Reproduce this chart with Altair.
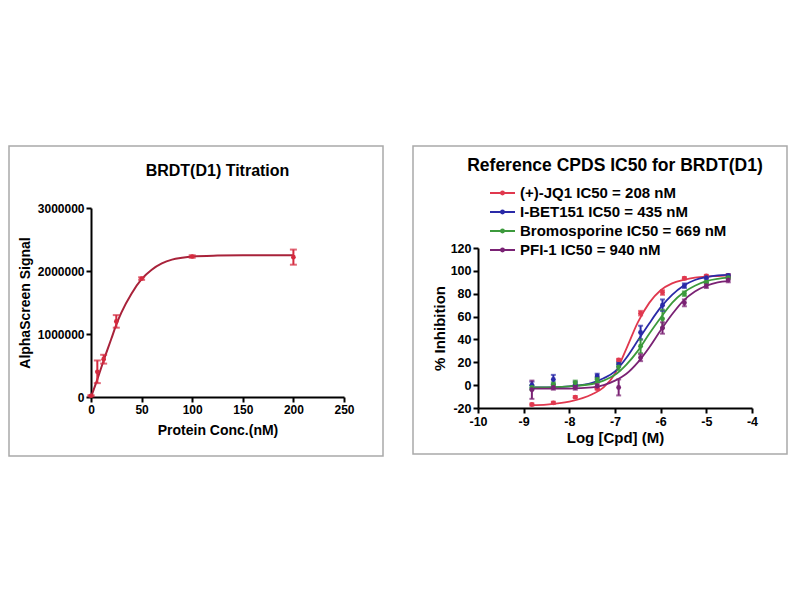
import altair as alt
import pandas as pd

FONT = "Liberation Sans"

# ---------------- Left panel: BRDT(D1) titration ----------------
left_title = ["BRDT(D1) Titration"]
conc_nm = [0, 6.25, 12.5, 25, 50, 100, 200]
signal = [20000, 400000, 600000, 1200000, 1880000, 2230000, 2220000]
signal_err = [10000, 180000, 70000, 100000, 20000, 20000, 120000]
fit_conc = [0, 6.25, 12.5, 20, 25, 30, 40, 50, 60, 70, 80, 90, 100, 125, 150, 200]
fit_signal = [0, 280000, 580000, 920000, 1150000, 1340000, 1640000, 1870000,
              2020000, 2120000, 2180000, 2210000, 2230000, 2245000, 2250000, 2250000]
left_x_ticks = [0, 50, 100, 150, 200, 250]
left_y_ticks = [0, 1000000, 2000000, 3000000]

# ---------------- Right panel: IC50 curves ----------------
right_title = ["Reference CPDS IC50 for BRDT(D1)"]
series = ["(+)-JQ1 IC50 = 208 nM", "I-BET151 IC50 = 435 nM",
          "Bromosporine IC50 = 669 nM", "PFI-1 IC50 = 940 nM"]
colors = ["#e0384e", "#2a2aa8", "#3c9a3c", "#7a2274"]
log_cpd = [-8.82, -8.35, -7.87, -7.39, -6.92, -6.44, -5.96, -5.48, -5.0, -4.52]
inhib = [
    [-17, -15.5, -10.5, -3, 22, 63, 81, 93.5, 95.5, 96],
    [0, 5, 1, 8, 18, 46, 70, 87, 94, 96],
    [-2, 0.5, 2, 5, 16, 34, 58, 80, 90, 94],
    [-4, -2, -2, -1, -2, 24, 50, 72, 87, 92],
]
inhib_err = [
    [1, 1, 1, 1, 1, 2, 2, 1, 1, 1],
    [3, 4, 2, 2, 2, 6, 5, 2, 1, 1],
    [2, 2, 2, 2, 3, 6, 8, 2, 1, 1],
    [8, 2, 2, 2, 7, 3, 5, 3, 2, 2],
]
fit_log = [-8.82, -8.5, -8.0, -7.5, -7.25, -7.0, -6.75, -6.5, -6.25, -6.0,
           -5.75, -5.5, -5.25, -5.0, -4.75, -4.52]
fit_inhib = [
    [-17.5, -17, -14.5, -8, -2, 10, 32, 55, 72, 83, 89, 92, 94, 95, 95.5, 96],
    [-2, -2, -1, 2, 6, 12, 24, 39, 54, 68, 79, 87, 92, 94.5, 96, 96.5],
    [-2, -2, -1, 1, 4, 9, 18, 30, 45, 59, 72, 81, 87, 91, 93, 94],
    [-3, -3, -3, -2, 0, 4, 10, 20, 33, 48, 62, 74, 82, 87, 90, 91],
]
right_x_ticks = [-10, -9, -8, -7, -6, -5, -4]
right_y_ticks = [-20, 0, 20, 40, 60, 80, 100, 120]

# ---------------- tables ----------------
left_pts = pd.DataFrame({
    "conc": conc_nm, "signal": signal,
    "lo": [s - e for s, e in zip(signal, signal_err)],
    "hi": [s + e for s, e in zip(signal, signal_err)],
})
left_fit = pd.DataFrame({"conc": fit_conc, "signal": fit_signal})

rows = []
for name, vals, errs in zip(series, inhib, inhib_err):
    for x, v, e in zip(log_cpd, vals, errs):
        rows.append({"series": name, "logc": x, "inh": v, "lo": v - e, "hi": v + e})
right_pts = pd.DataFrame(rows)
frows = []
for name, vals in zip(series, fit_inhib):
    for x, v in zip(fit_log, vals):
        frows.append({"series": name, "logc": x, "inh": v})
right_fit = pd.DataFrame(frows)
legend_df = pd.DataFrame({"series": series})

one = pd.DataFrame({"k": [0]})

RED = "#d42a3e"
FRAME = "#a9a9a9"


def axis_style(**kw):
    base = dict(domainColor="black", domainWidth=2, tickColor="black", tickWidth=2,
                tickSize=5, labelFont=FONT, labelFontWeight="bold", labelColor="black",
                titleFont=FONT, titleFontWeight="bold", titleColor="black", grid=False,
                labelPadding=2, labelFlush=False, labelOverlap=False)
    base.update(kw)
    base["tickCount"] = len(base["values"])
    return alt.Axis(**base)


# ---------------- left chart ----------------
LW, LH = 253, 189
xL = alt.X("conc:Q", scale=alt.Scale(domain=[0, 250], nice=False),
           axis=axis_style(values=left_x_ticks, title="Protein Conc.(nM)", labelFontSize=12,
                           titleFontSize=14, titlePadding=8, format="d"))
yL = alt.Y("signal:Q", scale=alt.Scale(domain=[0, 3000000], nice=False),
           axis=axis_style(values=left_y_ticks, title="AlphaScreen Signal", labelFontSize=12,
                           titleFontSize=14, titlePadding=5, format="d"))

l_frame = alt.Chart(one).mark_rect(fill="transparent", stroke=FRAME, strokeWidth=1.5).encode(
    x=alt.value(-82), x2=alt.value(292), y=alt.value(-62), y2=alt.value(248))
l_title = alt.Chart(pd.DataFrame({"t": left_title})).mark_text(
    font=FONT, fontSize=16, fontWeight="bold", color="black", baseline="middle").encode(
    text="t:N", x=alt.value(LW / 2), y=alt.value(-37))
l_curve = alt.Chart(left_fit).mark_line(color="#a8223a", strokeWidth=2, interpolate="monotone").encode(
    x=xL, y=yL)
l_rule = alt.Chart(left_pts).mark_rule(color=RED, strokeWidth=2).encode(
    x="conc:Q", y="lo:Q", y2="hi:Q")
l_cap_lo = alt.Chart(left_pts).mark_tick(orient="horizontal", size=7, thickness=2, color=RED).encode(
    x="conc:Q", y="lo:Q")
l_cap_hi = alt.Chart(left_pts).mark_tick(orient="horizontal", size=7, thickness=2, color=RED).encode(
    x="conc:Q", y="hi:Q")
l_pts = alt.Chart(left_pts).mark_circle(size=22, color=RED, opacity=1).encode(x="conc:Q", y="signal:Q")

left = alt.layer(l_frame, l_title, l_curve, l_rule, l_cap_lo, l_cap_hi, l_pts).properties(
    width=LW, height=LH)

# ---------------- right chart ----------------
# plot area top aligned with the left one; the y range starts 40px lower
RW, RH = 274, 200
xR = alt.X("logc:Q", scale=alt.Scale(domain=[-10, -4], nice=False),
           axis=axis_style(values=right_x_ticks, title="Log [Cpd] (M)", labelFontSize=12.5,
                           titleFontSize=15, titlePadding=3, labelExpr="'' + datum.value"))
yR = alt.Y("inh:Q", scale=alt.Scale(domain=[-20, 120], nice=False, range=[RH, 40]),
           axis=axis_style(values=right_y_ticks, title="% Inhibition", labelFontSize=12.5,
                           titleFontSize=15, titlePadding=3, labelExpr="'' + datum.value"))

cscale = alt.Scale(domain=series, range=colors)
col = alt.Color("series:N", scale=cscale, legend=None)

r_frame = alt.Chart(one).mark_rect(fill="transparent", stroke=FRAME, strokeWidth=1.5).encode(
    x=alt.value(-65), x2=alt.value(309), y=alt.value(-62), y2=alt.value(246))
r_title = alt.Chart(pd.DataFrame({"t": right_title})).mark_text(
    font=FONT, fontSize=17.5, fontWeight="bold", color="black", baseline="middle").encode(
    text="t:N", x=alt.value(RW / 2), y=alt.value(-42))
r_curve = alt.Chart(right_fit).mark_line(strokeWidth=1.8, interpolate="monotone").encode(
    x=xR, y=yR, color=col, detail="series:N")
r_rule = alt.Chart(right_pts).mark_rule(strokeWidth=2).encode(
    x="logc:Q", y="lo:Q", y2="hi:Q", color=col)
r_cap_lo = alt.Chart(right_pts).mark_tick(orient="horizontal", size=5, thickness=2).encode(
    x="logc:Q", y="lo:Q", color=col)
r_cap_hi = alt.Chart(right_pts).mark_tick(orient="horizontal", size=5, thickness=2).encode(
    x="logc:Q", y="hi:Q", color=col)
r_pts = alt.Chart(right_pts).mark_circle(size=24, opacity=1).encode(
    x="logc:Q", y="inh:Q", color=col)

data_layer = alt.layer(r_curve, r_rule, r_cap_lo, r_cap_hi, r_pts)

# legend drawn as marks: rows on a point scale
ly = alt.Y("series:N", scale=alt.Scale(type="point", domain=series, range=[-15, 42], padding=0),
           axis=None, sort=series)
leg_line = alt.Chart(legend_df).mark_rule(strokeWidth=2).encode(
    x=alt.value(12), x2=alt.value(37), y=ly, color=col)
leg_dot = alt.Chart(legend_df).mark_circle(size=24, opacity=1).encode(
    x=alt.value(24.5), y=ly, color=col)
leg_text = alt.Chart(legend_df).mark_text(
    font=FONT, fontSize=15, fontWeight="bold", color="black", align="left",
    baseline="middle").encode(x=alt.value(42), y=ly, text="series:N")
legend_layer = alt.layer(leg_line, leg_dot, leg_text)

right = alt.layer(r_frame, r_title, data_layer, legend_layer).resolve_scale(
    y="independent").properties(width=RW, height=RH)

chart = alt.hconcat(left, right, spacing=28).properties(
    padding={"left": 0, "top": 137, "right": 0, "bottom": 0},
    background="white",
).configure_view(stroke=None)

chart.save("out.html", embed_options={"renderer": "svg", "actions": False})
